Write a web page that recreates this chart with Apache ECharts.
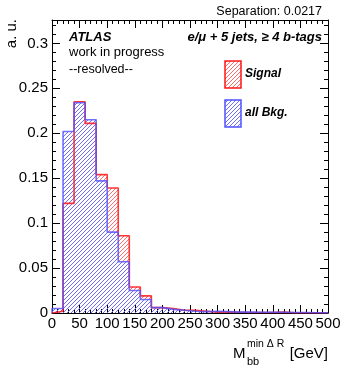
<!DOCTYPE html>
<html><head><meta charset="utf-8">
<script src="https://cdn.jsdelivr.net/npm/echarts@6/dist/echarts.min.js"></script>
<style>html,body{margin:0;padding:0;background:#fff}#c{width:344px;height:368px}</style>
</head><body><div id="c"></div>
<script>
const binEdges = [0,20,40,60,80,100,120,140,160,180,200,220,240,260,280,300,320,340,360,380,400,420,440,460,480,500];
const signal = [0.002,0.122,0.235,0.211,0.154,0.139,0.086,0.029,0.019,0.006,0.005,0.003,0.003,0.002,0.001,0.001,0.0008,0.0005,0.0005,0.0005,0.001,0.0003,0.0003,0.0002,0.0002];
const background = [0.005,0.202,0.234,0.215,0.147,0.090,0.057,0.025,0.015,0.006,0.004,0.003,0.002,0.0015,0.002,0.0015,0.001,0.001,0.0008,0.0008,0.0008,0.0005,0.0005,0.0003,0.0003];
const xTicks = [0,50,100,150,200,250,300,350,400,450,500];
const yTicks = ['0','0.05','0.1','0.15','0.2','0.25','0.3'];

const FONT = '"Liberation Sans", Arial, Helvetica, sans-serif';
const RED = 'rgb(255,20,20)';
const BLUE = 'rgb(80,80,255)';
const RED_HATCH = 'rgb(255,110,110)';
const BLUE_HATCH = 'rgb(110,110,255)';
const HATCH_STEP = 4;

function hatchLines(xa, xb, yt, yb, color) {
  const out = [];
  const c0 = Math.ceil((xa + yt) / HATCH_STEP) * HATCH_STEP;
  for (let c = c0; c <= xb + yb; c += HATCH_STEP) {
    const u0 = Math.max(xa, c - yb), u1 = Math.min(xb, c - yt);
    if (u1 > u0) out.push({ type: 'line', silent: true,
      shape: { x1: u0, y1: c - u0, x2: u1, y2: c - u1 },
      style: { stroke: color, lineWidth: 1 } });
  }
  return out;
}

function stepData(vals) {
  const d = [[binEdges[0], 0]];
  for (let i = 0; i < vals.length; i++) d.push([binEdges[i], vals[i]]);
  d.push([binEdges[binEdges.length - 1], 0]);
  return d;
}
function binData(vals) {
  return vals.map((v, i) => [binEdges[i], binEdges[i + 1], v]);
}
function hatchSeries(name, vals, color, z) {
  return {
    name: name, type: 'custom', xAxisIndex: 0, yAxisIndex: 0, z: z,
    encode: { x: [0, 1], y: 2 },
    data: binData(vals),
    renderItem: function (params, api) {
      const p0 = api.coord([api.value(0), api.value(2)]);
      const p1 = api.coord([api.value(1), 0]);
      return { type: 'group', children: hatchLines(p0[0], p1[0], p0[1], p1[1], color) };
    }
  };
}
function legendBox(x, y, w, h, color, border) {
  return { type: 'group', children: hatchLines(x, x + w, y, y + h, color).concat([
    { type: 'rect', shape: { x: x, y: y, width: w, height: h }, style: { fill: null, stroke: border, lineWidth: 1.5 } }]) };
}

const YMAX = 0.326;
function xAx(pos, labels) {
  return {
    type: 'value', position: pos, min: 0, max: 500, interval: 50,
    axisLine: { show: true, onZero: false, lineStyle: { color: '#000', width: 1 } },
    axisTick: { show: true, inside: true, length: 8, lineStyle: { color: '#000' } },
    minorTick: { show: true, splitNumber: 5, length: 4, lineStyle: { color: '#000' } },
    splitLine: { show: false },
    axisLabel: labels ? { show: true, fontSize: 15, color: '#000', fontFamily: FONT, margin: 3,
      formatter: v => xTicks.indexOf(Math.round(v)) >= 0 ? String(Math.round(v)) : '' } : { show: false }
  };
}
function yAx(pos, interval, len, labels, line) {
  return {
    type: 'value', position: pos, min: 0, max: YMAX, interval: interval, offset: 0,
    axisLine: { show: line, onZero: false, lineStyle: { color: '#000', width: 1 } },
    axisTick: { show: true, inside: true, length: len, lineStyle: { color: '#000' } },
    splitLine: { show: false },
    axisLabel: labels ? { show: true, fontSize: 15, color: '#000', fontFamily: FONT, margin: 4,
      formatter: v => { const k = Math.round(v / 0.05); return (Math.abs(v - k * 0.05) < 1e-6 && k < yTicks.length) ? yTicks[k] : ''; } } : { show: false }
  };
}

const chart = echarts.init(document.getElementById('c'), null, { renderer: 'canvas' });
chart.setOption({
  animation: false,
  backgroundColor: '#fff',
  grid: { left: 52, right: 16, top: 20, bottom: 55, containLabel: false },
  xAxis: [xAx('bottom', true), xAx('top', false)],
  yAxis: [yAx('left', 0.05, 8, true, true), yAx('left', 0.01, 4, false, false),
          yAx('right', 0.05, 8, false, true), yAx('right', 0.01, 4, false, false)],
  series: [
    hatchSeries('Signal fill', signal, RED_HATCH, 1),
    hatchSeries('all Bkg. fill', background, BLUE_HATCH, 2),
    { name: 'Signal', type: 'line', step: 'end', xAxisIndex: 0, yAxisIndex: 0, symbol: 'none', z: 3,
      data: stepData(signal), lineStyle: { color: RED, width: 1.6, opacity: 0.85 } },
    { name: 'all Bkg.', type: 'line', step: 'end', xAxisIndex: 0, yAxisIndex: 0, symbol: 'none', z: 4,
      data: stepData(background), lineStyle: { color: BLUE, width: 1.6, opacity: 0.8 } }
  ],
  graphic: [
    { type: 'text', x: 322, y: 12, style: { text: 'Separation: 0.0217', font: '12.5px ' + FONT, fill: '#000', textAlign: 'right', textVerticalAlign: 'middle' } },
    { type: 'text', x: 12, y: 19, rotation: Math.PI / 2, style: { text: 'a. u.', font: '15px ' + FONT, fill: '#000', textAlign: 'right', textVerticalAlign: 'middle' } },
    { type: 'text', x: 69, y: 37, style: { text: 'ATLAS', font: 'italic bold 13px ' + FONT, fill: '#000', textVerticalAlign: 'middle' } },
    { type: 'text', x: 69, y: 52, style: { text: 'work in progress', font: '13px ' + FONT, fill: '#000', textVerticalAlign: 'middle' } },
    { type: 'text', x: 69, y: 70, style: { text: '--resolved--', font: '12.5px ' + FONT, fill: '#000', textVerticalAlign: 'middle' } },
    { type: 'text', x: 322, y: 37, style: { text: 'e/\u03bc + 5 jets, \u2265 4 b-tags', font: 'italic bold 13px ' + FONT, fill: '#000', textAlign: 'right', textVerticalAlign: 'middle' } },
    legendBox(225, 61, 16, 27, RED_HATCH, RED),
    { type: 'text', x: 245, y: 74, style: { text: 'Signal', font: 'italic bold 12px ' + FONT, fill: '#000', textVerticalAlign: 'middle' } },
    legendBox(225, 100, 16, 27, BLUE_HATCH, BLUE),
    { type: 'text', x: 245, y: 113, style: { text: 'all Bkg.', font: 'italic bold 12px ' + FONT, fill: '#000', textVerticalAlign: 'middle' } },
    { type: 'text', x: 233, y: 354, style: { text: 'M', font: '15px ' + FONT, fill: '#000', textVerticalAlign: 'middle' } },
    { type: 'text', x: 247, y: 344, style: { text: 'min \u0394 R', font: '10.5px ' + FONT, fill: '#000', textVerticalAlign: 'middle' } },
    { type: 'text', x: 247, y: 362, style: { text: 'bb', font: '11px ' + FONT, fill: '#000', textVerticalAlign: 'middle' } },
    { type: 'text', x: 328, y: 354, style: { text: '[GeV]', font: '15px ' + FONT, fill: '#000', textAlign: 'right', textVerticalAlign: 'middle' } }
  ]
});
</script>
</body></html>
